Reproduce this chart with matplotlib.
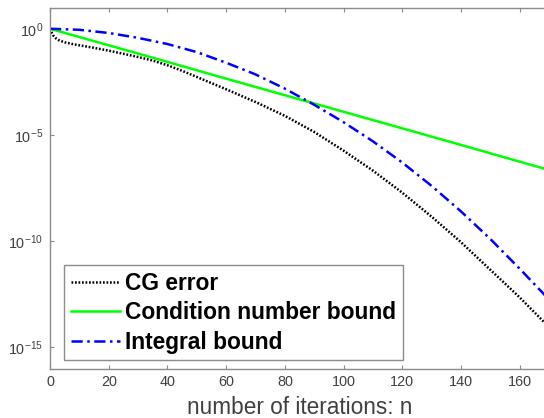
import matplotlib
matplotlib.use("Agg")
import matplotlib.pyplot as plt
import numpy as np
from matplotlib.ticker import FixedLocator, FixedFormatter, NullLocator

# ---- data (log10 of error values) ----
n_cg = [0, 1, 2, 3, 5, 8, 10, 15, 20, 25, 30, 35, 40, 45, 50, 60, 70, 80, 90,
        100, 110, 120, 130, 140, 150, 160, 170]
cg_log10 = [0.0, -0.3, -0.45, -0.54, -0.64, -0.73, -0.78, -0.9, -1.03, -1.18,
            -1.33, -1.5, -1.72, -1.98, -2.27, -2.85, -3.45, -4.1, -4.86,
            -5.74, -6.68, -7.72, -8.85, -10.05, -11.35, -12.65, -14.05]

n_cond = [0, 20, 40, 60, 80, 100, 120, 140, 160, 170]
cond_log10 = [0.0, -0.78, -1.56, -2.35, -3.13, -3.91, -4.69, -5.47, -6.26, -6.65]

n_int = [0, 10, 20, 30, 40, 50, 60, 70, 80, 90, 100, 110, 120, 130, 140,
         150, 160, 170]
int_log10 = [0.0, -0.05, -0.2, -0.43, -0.72, -1.1, -1.6, -2.15, -2.82, -3.58,
             -4.4, -5.3, -6.3, -7.4, -8.6, -9.9, -11.3, -12.75]

labels = ["CG error", "Condition number bound", "Integral bound"]
xticks = [0, 20, 40, 60, 80, 100, 120, 140, 160]
yticks = [1e-15, 1e-10, 1e-5, 1e0]
yticklabels = [r"$\mathregular{10^{-15}}$", r"$\mathregular{10^{-10}}$",
               r"$\mathregular{10^{-5}}$", r"$\mathregular{10^{0}}$"]

plt.rcParams['font.family'] = ['Liberation Sans', 'DejaVu Sans']
plt.rcParams['mathtext.fontset'] = 'custom'
plt.rcParams['mathtext.rm'] = 'Liberation Sans'

W, H = 544, 418
fig = plt.figure(figsize=(W / 100, H / 100), dpi=100)
left, right, top, bottom = 50, 549, 7.5, 368.5
ax = fig.add_axes([left / W, 1 - bottom / H, (right - left) / W, (bottom - top) / H])

ax.plot(n_cg, 10 ** np.array(cg_log10), color='black', lw=1.8,
        linestyle=(0, (0.7, 0.7)), label=labels[0])
ax.plot(n_cond, 10 ** np.array(cond_log10), color='#00ff00', lw=1.8,
        linestyle='-', label=labels[1])
ax.plot(n_int, 10 ** np.array(int_log10), color='blue', lw=1.8,
        linestyle=(0, (4.5, 1.8, 1, 1.8)), label=labels[2])

ax.set_yscale('log')
ax.set_xlim(0, 170)
ax.set_ylim(1e-16, 1e1)
ax.xaxis.set_major_locator(FixedLocator(xticks))
ax.yaxis.set_major_locator(FixedLocator(yticks))
ax.yaxis.set_major_formatter(FixedFormatter(yticklabels))
ax.yaxis.set_minor_locator(NullLocator())

spine_c = '#8c8c8c'
text_c = '#404040'
for s in ax.spines.values():
    s.set_color(spine_c)
    s.set_linewidth(1.0)
ax.tick_params(axis='both', which='major', direction='in', length=3,
               width=0.8, color=spine_c, labelcolor=text_c, labelsize=10.4,
               top=True, right=True, pad=5)

ax.set_xlabel("number of iterations: n", fontsize=16.3, color=text_c, labelpad=5)

leg = ax.legend(loc='upper left', bbox_to_anchor=(64 / W, 1 - 265 / H),
                bbox_transform=fig.transFigure, borderaxespad=0,
                prop={'size': 16.4, 'weight': 'bold'}, handlelength=2.15,
                handletextpad=0.22, borderpad=0.3, labelspacing=0.28,
                fancybox=False, framealpha=1, edgecolor=spine_c)
leg.get_frame().set_linewidth(1.0)

fig.savefig("out.png", dpi=100)
